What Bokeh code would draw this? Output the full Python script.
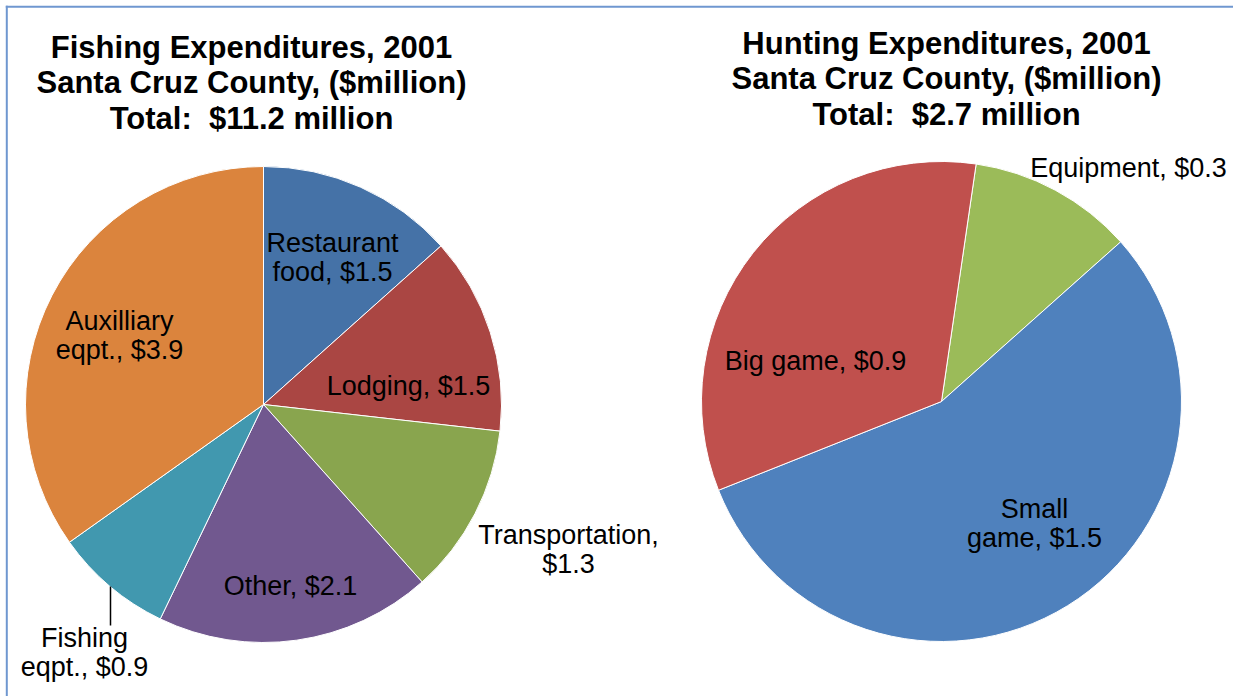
import numpy as np
from bokeh.plotting import figure
from bokeh.models import Range1d, ColumnDataSource
from bokeh.embed import file_html
from bokeh.resources import INLINE
from bokeh.core.properties import value

# ---------------- data ----------------
fishing_categories = ["Restaurant food", "Lodging", "Transportation", "Other",
                      "Fishing eqpt.", "Auxilliary eqpt."]
fishing_values = [1.5, 1.5, 1.3, 2.1, 0.9, 3.9]
fishing_label_lines = [["Restaurant", "food, $1.5"], ["Lodging, $1.5"],
                       ["Transportation,", "$1.3"], ["Other, $2.1"],
                       ["Fishing", "eqpt., $0.9"], ["Auxilliary", "eqpt., $3.9"]]
fishing_title = ["Fishing Expenditures, 2001", "Santa Cruz County, ($million)",
                 "Total:\u00a0 $11.2 million"]

hunting_categories = ["Equipment", "Small game", "Big game"]
hunting_values = [0.3, 1.5, 0.9]
hunting_label_lines = [["Equipment, $0.3"], ["Small", "game, $1.5"], ["Big game, $0.9"]]
hunting_title = ["Hunting Expenditures, 2001", "Santa Cruz County, ($million)",
                 "Total:\u00a0 $2.7 million"]

# ---------------- styles / layout ----------------
fishing_colors = ["#4572a7", "#aa4643", "#89a54e", "#71588f", "#4198af", "#db843d"]
hunting_colors = ["#9bbb59", "#4f81bd", "#c0504d"]

W, H = 1233, 696
OX, OY = 0, 0


def X(sx):
    return sx - OX


def Y(sy):
    return OY + H - sy


FONT = "Liberation Sans"
TITLE_SIZE = "31px"
LABEL_SIZE = "27px"

p = figure(width=W, height=H, x_range=Range1d(0, W), y_range=Range1d(0, H),
           output_backend="svg", toolbar_location=None, min_border=0,
           x_axis_type=None, y_axis_type=None)
p.grid.visible = False
p.outline_line_color = None
p.background_fill_color = "white"
p.border_fill_color = "white"

# frame border (left and top edges, as in the reference)
p.line(x=[X(6.3), X(6.3)], y=[Y(5.3), Y(H)], line_color="#6f97d0", line_width=2)
p.line(x=[X(5.3), X(W)], y=[Y(6.3), Y(6.3)], line_color="#6f97d0", line_width=2)


def pie(cx, cy, r, values, colors, start_deg):
    total = float(sum(values))
    cum = np.concatenate([[0.0], np.cumsum(values)]) / total * 360.0 + start_deg
    starts = np.radians(90.0 - cum[1:])
    ends = np.radians(90.0 - cum[:-1])
    src = ColumnDataSource(dict(start=starts, end=ends, color=colors))
    p.wedge(x=X(cx), y=Y(cy), radius=r, start_angle="start", end_angle="end",
            fill_color="color", line_color="white", line_width=1, source=src)


def text_block(lines, cx, cy, size, style="normal", spacing=29):
    n = len(lines)
    ys = [cy + (i - (n - 1) / 2.0) * spacing for i in range(n)]
    p.text(x=[X(cx)] * n, y=[Y(y) for y in ys], text=lines,
           text_font=value(FONT), text_font_size=size, text_font_style=style,
           text_align="center", text_baseline="middle", text_color="#000000")


# fishing pie
pie(263, 404, 238, fishing_values, fishing_colors, 0.0)
fishing_label_pos = [(332, 257), (408, 385), (568, 549), (290, 585), (84, 652), (119, 335)]
for lines, (lx, ly) in zip(fishing_label_lines, fishing_label_pos):
    text_block(lines, lx, ly, LABEL_SIZE)
# leader line for fishing equipment
p.line(x=[X(110), X(110)], y=[Y(586), Y(625)], line_color="#000000", line_width=1.5)

# hunting pie
pie(941, 401, 240, hunting_values, hunting_colors, 8.3)
hunting_label_pos = [(1128, 167), (1034, 523), (815, 360)]
for lines, (lx, ly) in zip(hunting_label_lines, hunting_label_pos):
    text_block(lines, lx, ly, LABEL_SIZE)

# titles
text_block(fishing_title, 251, 82, TITLE_SIZE, "bold", spacing=35.5)
text_block(hunting_title, 946, 78, TITLE_SIZE, "bold", spacing=35.5)

open("out.html", "w").write(file_html(p, INLINE))
